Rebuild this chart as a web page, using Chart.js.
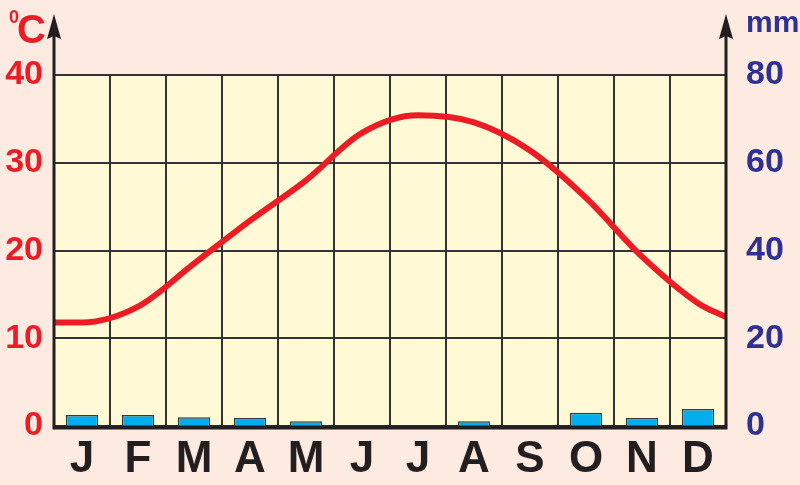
<!DOCTYPE html>
<html>
<head>
<meta charset="utf-8">
<script src="https://cdn.jsdelivr.net/npm/chart.js@4.4.0/dist/chart.umd.min.js"></script>
<style>
  html, body { margin: 0; padding: 0; background: #fdebe1; }
  #wrap { width: 800px; height: 485px; }
</style>
</head>
<body>
<div id="wrap"><canvas id="climate" width="800" height="485"></canvas></div>
<script>
const months = ['J', 'F', 'M', 'A', 'M', 'J', 'J', 'A', 'S', 'O', 'N', 'D'];
const precipitation = [2.5, 2.5, 2.0, 1.8, 1.1, 0, 0, 1.1, 0, 3.0, 1.8, 3.9]; // mm
const temperature = [11.8, 13.6, 18.5, 23.4, 28.0, 33.4, 35.4, 34.6, 31.4, 26.0, 19.3, 14.0]; // °C, mid-month
const tempEdges = [11.8, 12.4]; // curve at left / right border
const tempTicks = [0, 10, 20, 30, 40];
const rainTicks = [0, 20, 40, 60, 80];

const RED = '#ed1c24';
const BLUE = '#2e3192';
const INK = '#231f20';
const FONT = "'Liberation Sans Narrow', 'Liberation Sans', Arial, sans-serif";

// line sits on a 0..12 linear axis so it can reach the frame edges
const tempPoints = [{ x: 0, y: tempEdges[0] }]
    .concat(temperature.map((t, i) => ({ x: i + 0.5, y: t })))
    .concat([{ x: 12, y: tempEdges[1] }]);

const decorations = {
    id: 'decorations',
    beforeDraw(chart) {
        const { ctx, chartArea: a } = chart;
        ctx.save();
        ctx.fillStyle = '#fffad5';
        ctx.fillRect(a.left, a.top, a.right - a.left, a.bottom - a.top);
        ctx.restore();
    },
    afterDraw(chart) {
        const { ctx, chartArea: a } = chart;
        ctx.save();
        ctx.strokeStyle = INK;
        ctx.fillStyle = INK;
        ctx.lineWidth = 3;
        [a.left, a.right].forEach(x => {
            ctx.beginPath();
            ctx.moveTo(x, a.bottom);
            ctx.lineTo(x, 30);
            ctx.stroke();
            ctx.beginPath();
            ctx.moveTo(x, 14);
            ctx.lineTo(x - 7, 39);
            ctx.lineTo(x, 36);
            ctx.lineTo(x + 7, 39);
            ctx.closePath();
            ctx.fill();
        });
        // heavy base line, sitting just under the zero level
        ctx.lineWidth = 4;
        ctx.beginPath();
        ctx.moveTo(a.left - 1.5, a.bottom + 1.5);
        ctx.lineTo(a.right + 1.5, a.bottom + 1.5);
        ctx.stroke();

        ctx.textBaseline = 'alphabetic';
        ctx.textAlign = 'left';
        ctx.fillStyle = RED;
        ctx.font = 'bold 18px ' + FONT;
        ctx.fillText('0', 9, 23);
        ctx.font = 'bold 40px ' + FONT;
        ctx.fillText('C', 17, 43);
        ctx.fillStyle = BLUE;
        ctx.font = 'bold 30px ' + FONT;
        ctx.fillText('mm', 746, 32);
        ctx.restore();
    }
};

new Chart(document.getElementById('climate'), {
    type: 'bar',
    data: {
        labels: months,
        datasets: [{
            type: 'line',
            label: 'Temperature',
            data: tempPoints,
            xAxisID: 'xt',
            yAxisID: 'y',
            borderColor: RED,
            borderWidth: 6,
            pointRadius: 0,
            cubicInterpolationMode: 'monotone',
            order: 0
        }, {
            type: 'bar',
            label: 'Precipitation',
            data: precipitation,
            xAxisID: 'x',
            yAxisID: 'y2',
            backgroundColor: '#00aeef',
            borderColor: '#3a3a3a',
            borderWidth: 1.5,
            borderSkipped: 'bottom',
            grouped: false,
            categoryPercentage: 1,
            barPercentage: 0.58,
            order: 1
        }]
    },
    options: {
        responsive: false,
        animation: false,
        layout: { padding: { top: 75 } },
        plugins: { legend: { display: false }, tooltip: { enabled: false } },
        scales: {
            x: {
                type: 'category',
                offset: true,
                grid: { offset: true, color: '#333', lineWidth: 2, drawTicks: false },
                border: { display: false },
                ticks: { color: INK, padding: 7, font: { family: FONT, size: 44, weight: 'bold' } },
                afterFit: s => { s.height = 59; }
            },
            xt: {
                type: 'linear',
                min: 0,
                max: 12,
                offset: false,
                display: false
            },
            y: {
                position: 'left',
                min: 0,
                max: 40,
                afterBuildTicks: s => { s.ticks = tempTicks.map(v => ({ value: v })); },
                grid: { color: '#333', lineWidth: 2, drawTicks: false },
                border: { display: false },
                ticks: { color: RED, padding: 11, font: { family: FONT, size: 34, weight: 'bold' } },
                afterFit: s => { s.width = 54; }
            },
            y2: {
                position: 'right',
                min: 0,
                max: 80,
                afterBuildTicks: s => { s.ticks = rainTicks.map(v => ({ value: v })); },
                grid: { display: false, drawTicks: false },
                border: { display: false },
                ticks: { color: BLUE, padding: 20, font: { family: FONT, size: 34, weight: 'bold' } },
                afterFit: s => { s.width = 74; }
            }
        }
    },
    plugins: [decorations]
});
</script>
</body>
</html>
